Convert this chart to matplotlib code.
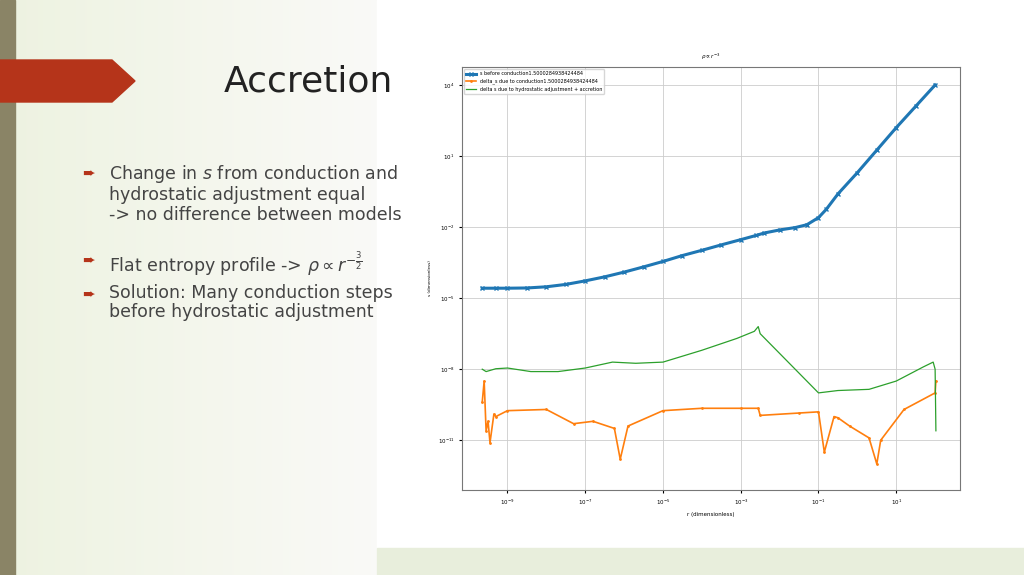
import numpy as np
import matplotlib.pyplot as plt
from matplotlib.patches import Polygon, Rectangle

# data (log10 values)
blue_logr = [-9.65, -9.3, -9.0, -8.5, -8.0, -7.5, -7.0, -6.5, -6.0, -5.5, -5.0, -4.5, -4.0, -3.5, -3.0, -2.6, -2.4, -2.0, -1.6, -1.3, -1.0, -0.8, -0.5, 0.0, 0.5, 1.0, 1.5, 2.0]
blue_logs = [-4.58, -4.58, -4.58, -4.57, -4.52, -4.42, -4.27, -4.1, -3.9, -3.68, -3.45, -3.2, -2.98, -2.75, -2.53, -2.35, -2.25, -2.12, -2.02, -1.9, -1.6, -1.25, -0.6, 0.3, 1.25, 2.2, 3.1, 4.0]
green_logr = [-9.65, -9.55, -9.3, -9.0, -8.4, -7.7, -7.0, -6.3, -5.7, -5.0, -4.0, -3.1, -2.65, -2.55, -2.5, -1.0, -0.5, 0.3, 1.0, 1.7, 1.95, 2.0, 2.02]
green_logs = [-8.0, -8.1, -7.98, -7.95, -8.1, -8.1, -7.95, -7.7, -7.75, -7.7, -7.2, -6.7, -6.4, -6.2, -6.5, -9.0, -8.9, -8.85, -8.5, -7.9, -7.7, -8.0, -10.6]
orange_logr = [-9.65, -9.6, -9.55, -9.5, -9.45, -9.35, -9.3, -9.0, -8.0, -7.3, -6.8, -6.25, -6.1, -5.9, -5.0, -4.0, -3.0, -2.55, -2.5, -1.5, -1.0, -0.85, -0.6, -0.5, -0.2, 0.3, 0.5, 0.6, 1.2, 2.0, 2.02]
orange_logs = [-9.4, -8.5, -10.6, -10.2, -11.1, -9.9, -10.0, -9.75, -9.7, -10.3, -10.2, -10.5, -11.8, -10.4, -9.75, -9.65, -9.65, -9.65, -9.95, -9.85, -9.8, -11.5, -10.0, -10.05, -10.4, -10.9, -12.0, -11.0, -9.7, -9.0, -8.5]

fig = plt.figure(figsize=(10.24, 5.75), dpi=100)
bg = fig.add_axes([0, 0, 1, 1])
grad = np.linspace(0, 1, 256)[None, :]
bg.imshow(np.dstack([0.93 + 0.05*grad, 0.95 + 0.03*grad, 0.88 + 0.09*grad]), extent=[0, 377, 575, 0], aspect='auto')
bg.add_patch(Rectangle((377, 0), 647, 575, color='white'))
bg.add_patch(Rectangle((377, 548), 647, 27, color='#e8eedc'))
bg.add_patch(Rectangle((0, 0), 15, 575, color='#8a8466'))
bg.add_patch(Polygon([[0, 60], [112, 60], [135, 81], [112, 102], [0, 102]], color='#b5341a'))
bg.set_xlim(0, 1024); bg.set_ylim(575, 0); bg.axis('off')
bg.text(308, 81, 'Accretion', fontsize=26, ha='center', va='center', color='#222222')
bullets = [(173, 'Change in $s$ from conduction and\nhydrostatic adjustment equal\n-> no difference between models'),
           (260, r'Flat entropy profile -> $\rho \propto r^{-\frac{3}{2}}$'),
           (294, 'Solution: Many conduction steps\nbefore hydrostatic adjustment')]
for y, t in bullets:
    bg.text(82, y, '➨', fontsize=11, color='#b5341a', va='center')
    bg.text(109, y - 10, t, fontsize=12.5, color='#444444', va='top', linespacing=1.1)

ax = fig.add_axes([462/1024, 1 - 490/575, 498/1024, 423/575])
r = lambda a: 10**np.array(a)
ax.plot(r(blue_logr), r(blue_logs), color='#1f77b4', marker='x', markersize=2.5, lw=2.2,
        label='s before conduction1.5000284938424484')
ax.plot(r(orange_logr), r(orange_logs), color='#ff7f0e', lw=1.2, marker='.', markersize=2,
        label='delta_s due to conduction1.5000284938424484')
ax.plot(r(green_logr), r(green_logs), color='#2ca02c', lw=0.9,
        label='delta s due to hydrostatic adjustment + accretion')
ax.set_xscale('log'); ax.set_yscale('log')
ax.set_xlim(10**-10.17, 10**2.64)
ax.set_ylim(10**-13.1, 10**4.76)
ax.set_xticks([1e-9, 1e-7, 1e-5, 1e-3, 1e-1, 1e1])
ax.set_yticks([1e-11, 1e-8, 1e-5, 1e-2, 1e1, 1e4])
ax.minorticks_off()
ax.grid(True, color='#cccccc', lw=0.6)
ax.tick_params(labelsize=4, length=2)
ax.set_xlabel('r (dimensionless)', fontsize=4)
ax.set_ylabel('s (dimensionless)', fontsize=3)
ax.set_title(r'$\rho \propto r^{-3}$', fontsize=4)
ax.legend(loc='upper left', fontsize=3.5, framealpha=0.8)
for s in ax.spines.values():
    s.set_color('#777777')
fig.savefig('out.png', dpi=100)
